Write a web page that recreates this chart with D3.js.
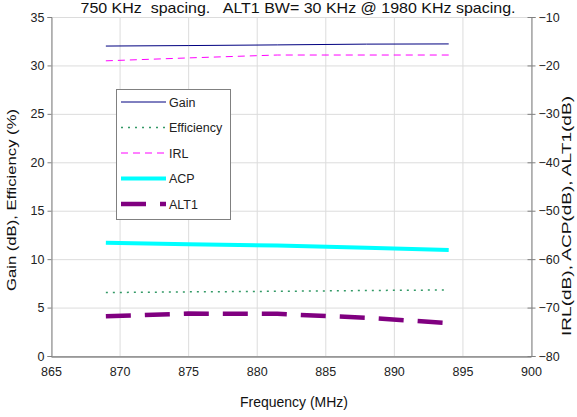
<!DOCTYPE html>
<html><head><meta charset="utf-8">
<script src="https://cdn.jsdelivr.net/npm/d3@7"></script>
<style>
body{margin:0;background:#fff;}
svg{display:block;font-family:"Liberation Sans",Arial,sans-serif;}
</style></head>
<body><svg id="c" width="577" height="417"></svg>
<script>
const freq = [869, 875, 881.5, 888, 894];
const gain = [32.0, 32.05, 32.12, 32.2, 32.22];
const efficiency = [6.55, 6.62, 6.68, 6.76, 6.82];
const irl = [-19.05, -18.45, -17.85, -17.85, -17.85];
const acp = [-56.6, -56.9, -57.2, -57.65, -58.1];
const alt1 = [-71.8, -71.25, -71.3, -72.1, -73.2];
const xTicks = [865, 870, 875, 880, 885, 890, 895, 900];
const yLeftTicks = [0, 5, 10, 15, 20, 25, 30, 35];
const yRightTicks = [-80, -70, -60, -50, -40, -30, -20, -10];
const titleText = "750 KHz  spacing.   ALT1 BW= 30 KHz @ 1980 KHz spacing.";

const svg = d3.select("#c");
const L = 51, R = 531, T = 17, B = 356;
const x = d3.scaleLinear().domain([865, 900]).range([L, R]);
const yL = d3.scaleLinear().domain([0, 35]).range([B, T]);
const yR = d3.scaleLinear().domain([-80, -10]).range([B, T]);

// gridlines
const g = svg.append("g");
g.selectAll(".vg").data(xTicks).join("line")
  .attr("x1", d => x(d) + 0.5).attr("x2", d => x(d) + 0.5)
  .attr("y1", T).attr("y2", B).attr("stroke", "#dcdcdc").attr("stroke-width", 1);
g.selectAll(".hg").data(yLeftTicks).join("line")
  .attr("x1", L).attr("x2", R).attr("y1", d => yL(d) + 0.5).attr("y2", d => yL(d) + 0.5)
  .attr("stroke", "#dcdcdc").attr("stroke-width", 1);

// axes
const fmt = d3.format("d");
const axB = svg.append("g").attr("transform", `translate(0,${B + 0.5})`)
  .call(d3.axisBottom(x).tickValues(xTicks).tickFormat(fmt).tickSize(0).tickPadding(11));
const axL = svg.append("g").attr("transform", `translate(${L + 0.5},0)`)
  .call(d3.axisLeft(yL).tickValues(yLeftTicks).tickFormat(fmt).tickSize(4).tickPadding(3));
const axR = svg.append("g").attr("transform", `translate(${R + 0.5},0)`)
  .call(d3.axisRight(yR).tickValues(yRightTicks).tickFormat(fmt).tickSize(4).tickPadding(3));
[axB, axL, axR].forEach(a => {
  a.select(".domain").attr("stroke", "#808080");
  a.selectAll(".tick line").attr("stroke", "#808080");
  a.selectAll("text").attr("fill", "#222").style("font-size", "12.5px")
    .style("font-family", "'Liberation Sans',Arial,sans-serif");
});
axB.select(".domain").attr("stroke", "#555");
axR.selectAll(".tick line").attr("x1", -4);

// series
const line = (yScale, vals) => d3.line().x((d, i) => x(freq[i])).y((d, i) => yScale(vals[i]))(vals);
const series = [
  {name: "Gain", vals: gain, scale: yL, color: "#000080", w: 1, dash: null},
  {name: "Efficiency", vals: efficiency, scale: yL, color: "#339966", w: 1.5, dash: "2,5"},
  {name: "IRL", vals: irl, scale: yR, color: "#FF00FF", w: 1, dash: "7,5"},
  {name: "ACP", vals: acp, scale: yR, color: "#00FFFF", w: 4, dash: null},
  {name: "ALT1", vals: alt1, scale: yR, color: "#800080", w: 4.5, dash: "25,14"}
];
series.forEach(s => {
  svg.append("path").attr("d", line(s.scale, s.vals)).attr("fill", "none")
    .attr("stroke", s.color).attr("stroke-width", s.w)
    .attr("stroke-dasharray", s.dash);
});

// legend
const lg = svg.append("g");
lg.append("rect").attr("x", 116.5).attr("y", 89.5).attr("width", 114).attr("height", 130)
  .attr("fill", "#fff").attr("stroke", "#808080");
series.forEach((s, i) => {
  const yy = 102 + i * 25.5;
  lg.append("line").attr("x1", 121).attr("x2", 166).attr("y1", yy).attr("y2", yy)
    .attr("stroke", s.color).attr("stroke-width", s.w).attr("stroke-dasharray", s.dash);
  lg.append("text").attr("x", 169).attr("y", yy + 4.5).text(s.name)
    .style("font-size", "12.5px").attr("fill", "#222");
});

// titles
svg.append("text").attr("x", 298).attr("y", 13).attr("text-anchor", "middle")
  .attr("textLength", 435).attr("lengthAdjust", "spacingAndGlyphs")
  .style("font-size", "15px").style("white-space", "pre").attr("fill", "#111").text(titleText);
svg.append("text").attr("x", 294).attr("y", 407).attr("text-anchor", "middle")
  .attr("textLength", 108).attr("lengthAdjust", "spacingAndGlyphs")
  .style("font-size", "14px").attr("fill", "#111").text("Frequency (MHz)");
svg.append("text").attr("transform", "translate(16,200) rotate(-90)").attr("text-anchor", "middle")
  .attr("textLength", 182).attr("lengthAdjust", "spacingAndGlyphs")
  .style("font-size", "12.5px").attr("fill", "#111").text("Gain (dB), Efficiency (%)");
svg.append("text").attr("transform", "translate(571,216) rotate(-90)").attr("text-anchor", "middle")
  .attr("textLength", 240).attr("lengthAdjust", "spacingAndGlyphs")
  .style("font-size", "12.5px").attr("fill", "#111").text("IRL(dB), ACP(dB), ALT1(dB)");
</script></body></html>
